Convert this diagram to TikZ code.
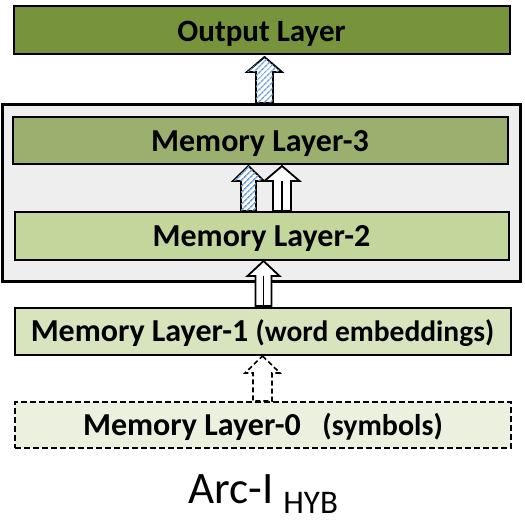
\documentclass[tikz,border=0pt]{standalone}
\usepackage{fontspec}
\setmainfont{Carlito}
\usetikzlibrary{patterns.meta}
\definecolor{outgreen}{HTML}{77933C}
\definecolor{lthree}{HTML}{9BB06F}
\definecolor{ltwo}{HTML}{C3D69B}
\definecolor{lone}{HTML}{D7E4BD}
\definecolor{lzero}{HTML}{EBF1DE}
\definecolor{outergray}{HTML}{EEEEEE}
\definecolor{hatchblue}{HTML}{6F9FD8}
\newcommand{\lowr}[2]{\raisebox{-#1}[\height][\depth]{#2}}
\tikzset{
  layerbox/.style={draw=black, line width=2pt, inner sep=0pt, font=\bfseries\fontsize{32}{36}\selectfont},
  hatcharrow/.style={draw=black, line width=1.8pt, line join=miter, fill=white,
     postaction={pattern={Lines[angle=45,distance=4pt,line width=1.6pt]}, pattern color=hatchblue}},
  whitearrow/.style={draw=black, line width=1.8pt, line join=miter, fill=white},
  dasharrow/.style={draw=black, line width=1.6pt, dash pattern=on 5pt off 3pt, fill=white},
}
% \blockarrow{style}{xc}{ytip}{yheadbase}{ybottom}{half shaft}{half head}
\newcommand{\blockarrow}[7]{%
  \draw[#1] (#2,#3) -- (#2+#7,#4) -- (#2+#6,#4) -- (#2+#6,#5) -- (#2-#6,#5) -- (#2-#6,#4) -- (#2-#7,#4) -- cycle;}
\begin{document}
\begin{tikzpicture}[x=1pt,y=-1pt]
\useasboundingbox (0,0) rectangle (524,526);
% outer container
\node[draw=black, line width=2.6pt, fill=outergray, minimum width=518pt, minimum height=177pt, inner sep=0pt] (outer) at (261.5,193) {};
% layers
\node[layerbox, fill=outgreen, minimum width=496pt, minimum height=48pt] (out) at (261.5,30.5) {\lowr{3pt}{\fontsize{31}{36}\selectfont Output Layer}};
\node[layerbox, fill=lthree, minimum width=495pt, minimum height=47pt] (l3) at (260,141) {\lowr{3pt}{Memory Layer-3}};
\node[layerbox, fill=ltwo, minimum width=494pt, minimum height=47pt] (l2) at (261.5,236) {\lowr{3pt}{Memory Layer-2}};
\node[layerbox, fill=lone, minimum width=496pt, minimum height=47pt] (l1) at (262.5,331) {\lowr{2pt}{Memory Layer-1 {\fontsize{29.5}{30}\selectfont (word embeddings)}}};
\node[layerbox, fill=lzero, dash pattern=on 6pt off 3pt, line width=1.8pt, minimum width=496pt, minimum height=46pt] (l0) at (263,425) {\lowr{2pt}{Memory Layer-0\ \ \ {\fontsize{30}{30}\selectfont (symbols)}}};
% arrows
\blockarrow{hatcharrow}{264.5}{57}{72}{103}{8.5}{17.5}
\blockarrow{hatcharrow}{248.5}{166}{181}{211}{7.5}{15.5}
\blockarrow{whitearrow}{282}{166}{181}{211}{9}{17.5}
\draw[line width=1.6pt] (282,181) -- (282,211);
\blockarrow{whitearrow}{263.5}{261}{276}{306}{8}{16}
\draw[line width=1.6pt] (263.5,276) -- (263.5,306);
\blockarrow{dasharrow}{262.5}{356}{373}{401}{9.5}{17.5}
% title
\node[font=\fontsize{45}{50}\selectfont, anchor=base west, inner sep=0pt] (title) at (188,503) {Arc-I\hspace{10pt}\raisebox{-10pt}{\fontsize{33}{36}\selectfont HYB}};
\end{tikzpicture}
\end{document}
